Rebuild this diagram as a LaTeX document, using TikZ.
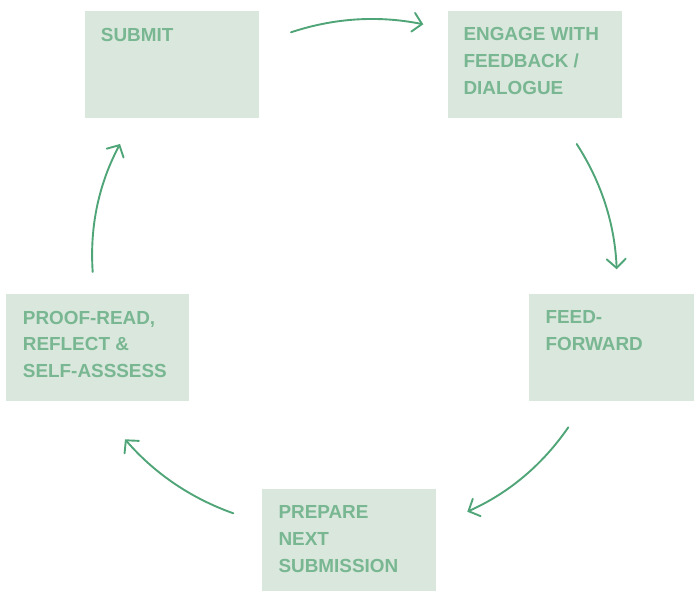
\documentclass[tikz,border=0pt]{standalone}
\usepackage{fontspec}
\setmainfont{Liberation Sans}
\usetikzlibrary{arrows.meta}
\definecolor{boxfill}{HTML}{DAE7DD}
\definecolor{txtgreen}{HTML}{78B791}
\definecolor{arrgreen}{HTML}{4FA577}
\tikzset{
  stagebox/.style={draw=none, fill=boxfill, inner sep=0pt, anchor=north west},
  stagetext/.style={text=txtgreen, inner sep=0pt, anchor=north west, align=left,
    font=\bfseries\fontsize{18.9}{26.7}\selectfont},
  cyclearrow/.style={draw=arrgreen, line width=1.9pt, line cap=round,
    -{Straight Barb[length=9pt,width=19pt,line cap=round]}}
}
\begin{document}
\begin{tikzpicture}[x=1pt,y=-1pt]
\useasboundingbox (0,0) rectangle (694,591);
% boxes
\node[stagebox, minimum width=174pt, minimum height=107pt] (submit) at (85,11) {};
\node[stagebox, minimum width=174pt, minimum height=107pt] (engage) at (448,11) {};
\node[stagebox, minimum width=165pt, minimum height=107pt] (feed) at (529,294) {};
\node[stagebox, minimum width=174pt, minimum height=102pt] (prepare) at (262,489) {};
\node[stagebox, minimum width=183pt, minimum height=107pt] (proof) at (6,294) {};
% texts
\node[stagetext] (submitT) at (100.7,28.3) {SUBMIT};
\node[stagetext] (engageT) at (463.3,27.5) {ENGAGE WITH\\FEEDBACK /\\DIALOGUE};
\node[stagetext] (feedT) at (545.3,310.4) {FEED-\\FORWARD};
\node[stagetext] (prepareT) at (278.3,505.7) {PREPARE\\NEXT\\SUBMISSION};
\node[stagetext] (proofT) at (22.7,310.7) {PROOF-READ,\\REFLECT \&\\SELF-ASSSESS};
% arrow end points
\coordinate (a1s) at (291,32.3);   \coordinate (a1e) at (423.3,24.3);
\coordinate (a2s) at (576.7,144);  \coordinate (a2e) at (616.7,269.3);
\coordinate (a3s) at (568.3,427.3);\coordinate (a3e) at (467.3,511.7);
\coordinate (a4s) at (233.3,513.3);\coordinate (a4e) at (125,439.3);
\coordinate (a5s) at (92.7,272);   \coordinate (a5e) at (120,144);
% arrows
\draw[cyclearrow] (a1s) .. controls (334.4,17.9) and (378.5,15.3) .. (a1e);
\draw[cyclearrow] (a2s) .. controls (601.4,182.2) and (614.8,223.9) .. (a2e);
\draw[cyclearrow] (a3s) .. controls (542.5,464.8) and (508.9,493) .. (a3e);
\draw[cyclearrow] (a4s) .. controls (190.7,498.1) and (154.6,473.5) .. (a4e);
\draw[cyclearrow] (a5s) .. controls (89.6,226.7) and (98.7,184.1) .. (a5e);
\end{tikzpicture}
\end{document}
